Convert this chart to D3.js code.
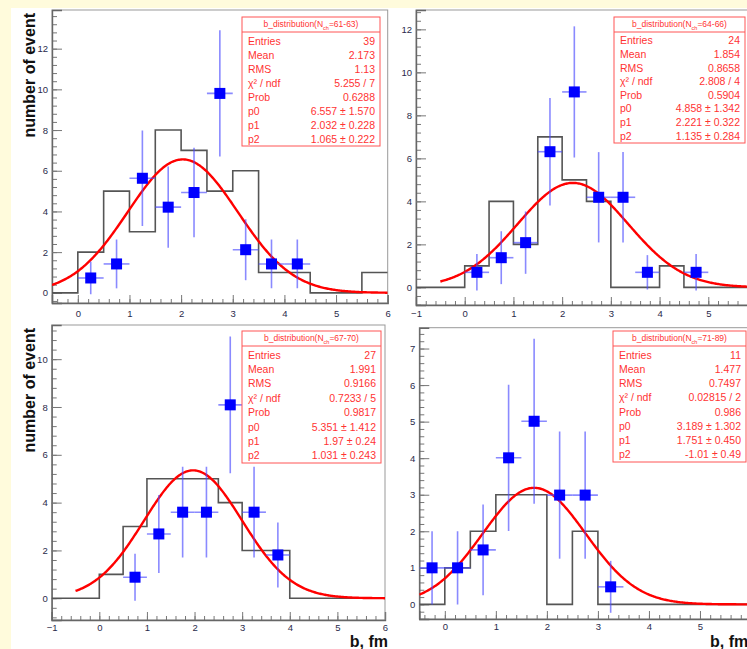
<!DOCTYPE html>
<html>
<head>
<meta charset="utf-8">
<script src="https://cdn.jsdelivr.net/npm/d3@7"></script>
<style>
  html, body { margin: 0; padding: 0; background: #fffbdc; }
  svg { display: block; font-family: "Liberation Sans", Arial, sans-serif; }
  .tick text { fill: #2a2a4a; font-size: 9.5px; }
  .domain { stroke: #666; }
  .tick line { stroke: #777; }
</style>
</head>
<body>
<svg id="chart" width="747" height="649"></svg>
<script>
// ---- panel 1: N = 61-63 ----
const hist1 = [0, 2, 5, 3, 8, 7, 5, 6, 1, 1, 0, 0, 1];          // 0.5 wide bins from -0.5
const pts1X = [0.25, 0.75, 1.25, 1.75, 2.25, 2.75, 3.25, 3.75, 4.25];
const pts1Y = [0.73, 1.42, 5.63, 4.21, 4.93, 9.8, 2.12, 1.42, 1.42];
const pts1Err = [0.8, 1.2, 2.35, 2.0, 2.2, 3.1, 1.5, 1.2, 1.2];
const fit1 = [6.557, 2.032, 1.065];
const stats1 = [["Entries", "39"], ["Mean", "2.173"], ["RMS", "1.13"], ["χ² / ndf", "5.255 / 7"],
  ["Prob", "0.6288"], ["p0", "6.557 ± 1.570"], ["p1", "2.032 ± 0.228"], ["p2", "1.065 ± 0.222"]];

// ---- panel 2: N = 64-66 ----
const hist2 = [0, 0, 1, 4, 2, 7, 5, 4, 0, 0, 1, 0, 0, 0];       // from -1
const pts2X = [0.25, 0.75, 1.25, 1.75, 2.25, 2.75, 3.25, 3.75, 4.75];
const pts2Y = [0.7, 1.38, 2.08, 6.31, 9.09, 4.19, 4.19, 0.7, 0.7];
const pts2Err = [0.85, 1.23, 1.45, 2.5, 3.05, 2.1, 2.1, 0.8, 0.85];
const fit2 = [4.858, 2.221, 1.135];
const stats2 = [["Entries", "24"], ["Mean", "1.854"], ["RMS", "0.8658"], ["χ² / ndf", "2.808 / 4"],
  ["Prob", "0.5904"], ["p0", "4.858 ± 1.342"], ["p1", "2.221 ± 0.322"], ["p2", "1.135 ± 0.284"]];

// ---- panel 3: N = 67-70 ----
const hist3 = [0, 0, 1, 3, 5, 5, 5, 4, 2, 2, 0, 0, 0, 0];       // from -1
const pts3X = [0.75, 1.25, 1.75, 2.25, 2.75, 3.25, 3.75];
const pts3Y = [0.88, 2.69, 3.6, 3.6, 8.09, 3.6, 1.81];
const pts3Err = [0.98, 1.63, 1.9, 1.9, 2.86, 1.9, 1.36];
const fit3 = [5.351, 1.97, 1.031];
const stats3 = [["Entries", "27"], ["Mean", "1.991"], ["RMS", "0.9166"], ["χ² / ndf", "0.7233 / 5"],
  ["Prob", "0.9817"], ["p0", "5.351 ± 1.412"], ["p1", "1.97 ± 0.24"], ["p2", "1.031 ± 0.243"]];

// ---- panel 4: N = 71-89 ----
const hist4 = [0, 1, 2, 3, 3, 0, 2, 0, 0, 0, 0, 0, 0];          // from -0.5
const pts4X = [-0.25, 0.25, 0.75, 1.25, 1.75, 2.25, 2.75, 3.25];
const pts4Y = [1.0, 1.0, 1.49, 4.01, 5.01, 2.99, 2.99, 0.48];
const pts4Err = [1.0, 1.0, 1.24, 2.0, 2.26, 1.74, 1.74, 0.71];
const fit4 = [3.189, 1.751, 1.01];
const stats4 = [["Entries", "11"], ["Mean", "1.477"], ["RMS", "0.7497"], ["χ² / ndf", "0.02815 / 2"],
  ["Prob", "0.986"], ["p0", "3.189 ± 1.302"], ["p1", "1.751 ± 0.450"], ["p2", "-1.01 ± 0.49"]];

const titles = ["61-63", "64-66", "67-70", "71-89"];

// layout of the four pads
const panels = [
  { hist: hist1, px: pts1X, py: pts1Y, pe: pts1Err, fit: fit1, stats: stats1, title: titles[0],
    fx: [52, 387.7], fy: [303, 10], xd: [-0.5, 6], yd: [-0.5, 13.9], yStep: 2, yMax: 12,
    box: [242, 17, 138, 129], yTitle: true, xTitle: null, xPad: 7 },
  { hist: hist2, px: pts2X, py: pts2Y, pe: pts2Err, fit: fit2, stats: stats2, title: titles[1],
    fx: [416, 757], fy: [305, 10], xd: [-1, 6], yd: [-0.82, 12.9], yStep: 2, yMax: 12,
    box: [614, 17, 131, 126], yTitle: false, xTitle: null, xPad: 5 },
  { hist: hist3, px: pts3X, py: pts3Y, pe: pts3Err, fit: fit3, stats: stats3, title: titles[2],
    fx: [51.7, 385], fy: [620, 325], xd: [-1, 6], yd: [-0.91, 11.43], yStep: 2, yMax: 10,
    box: [242, 331, 139, 132], yTitle: true, xTitle: [388, 647], xPad: 4 },
  { hist: hist4, px: pts4X, py: pts4Y, pe: pts4Err, fit: fit4, stats: stats4, title: titles[3],
    fx: [419.3, 751], fy: [619, 327.7], xd: [-0.5, 6], yd: [-0.4, 7.57], yStep: 1, yMax: 7,
    box: [613, 331, 133, 131], yTitle: false, xTitle: [710, 647], xPad: 4 }
];

const svg = d3.select("#chart");
svg.append("rect").attr("x", 11).attr("y", 8).attr("width", 736).attr("height", 641).attr("fill", "#fff");

const gauss = (p, x) => p[0] * Math.exp(-0.5 * Math.pow((x - p[1]) / p[2], 2));

panels.forEach((p, i) => {
  const x = d3.scaleLinear().domain(p.xd).range(p.fx);
  const y = d3.scaleLinear().domain(p.yd).range(p.fy);
  const g = svg.append("g");
  const clipId = "clip" + i;
  g.append("clipPath").attr("id", clipId).append("rect")
    .attr("x", p.fx[0]).attr("y", p.fy[1])
    .attr("width", p.fx[1] - p.fx[0]).attr("height", p.fy[0] - p.fy[1]);

  // frame
  g.append("rect")
    .attr("x", p.fx[0]).attr("y", p.fy[1])
    .attr("width", p.fx[1] - p.fx[0]).attr("height", p.fy[0] - p.fy[1])
    .attr("fill", "none").attr("stroke", "#999").attr("stroke-width", 1);

  // axes: minor ticks, then major with labels
  const xMinor = d3.range(Math.ceil(p.xd[0] / 0.2) * 0.2, p.xd[1] + 1e-6, 0.2);
  g.append("g").attr("transform", `translate(0,${p.fy[0]})`)
    .call(d3.axisBottom(x).tickValues(xMinor).tickSize(-4).tickFormat(""))
    .call(a => a.select(".domain").remove());
  g.append("g").attr("transform", `translate(0,${p.fy[0]})`)
    .call(d3.axisBottom(x).tickValues(d3.range(Math.ceil(p.xd[0]), Math.floor(p.xd[1]) + 1))
      .tickSize(-8).tickPadding(p.xPad).tickFormat(d3.format("d")))
    .call(a => a.select(".domain").attr("stroke", "#666").attr("stroke-width", 1.4));

  const yMinorStep = p.yStep / 5;
  const yMinor = d3.range(Math.ceil(p.yd[0] / yMinorStep) * yMinorStep, p.yd[1], yMinorStep);
  g.append("g").attr("transform", `translate(${p.fx[0]},0)`)
    .call(d3.axisLeft(y).tickValues(yMinor).tickSize(-5).tickFormat(""))
    .call(a => a.select(".domain").remove());
  g.append("g").attr("transform", `translate(${p.fx[0]},0)`)
    .call(d3.axisLeft(y).tickValues(d3.range(0, p.yMax + 1, p.yStep))
      .tickSize(-10).tickPadding(4).tickFormat(d3.format("d")))
    .call(a => a.select(".domain").attr("stroke", "#666").attr("stroke-width", 1.4));

  const plot = g.append("g").attr("clip-path", `url(#${clipId})`);

  // histogram outline
  const steps = [];
  p.hist.forEach((c, k) => {
    const a = p.xd[0] + k * 0.5;
    steps.push([a, c], [a + 0.5, c]);
  });
  plot.append("path")
    .attr("d", d3.line().x(d => x(d[0])).y(d => y(d[1]))(steps))
    .attr("fill", "none").attr("stroke", "#555").attr("stroke-width", 1.6);

  // fit curve
  const fx = d3.range(-0.5, 6.001, 0.02);
  plot.append("path")
    .attr("d", d3.line().x(d => x(d)).y(d => y(gauss(p.fit, d)))(fx))
    .attr("fill", "none").attr("stroke", "#f00").attr("stroke-width", 2.4);

  // data points with error bars
  const pts = p.px.map((v, k) => ({ x: v, y: p.py[k], e: p.pe[k] }));
  const eb = plot.append("g").attr("stroke", "#4b4bff").attr("stroke-opacity", 0.65).attr("stroke-width", 1.6);
  eb.selectAll(".v").data(pts).join("line")
    .attr("x1", d => x(d.x)).attr("x2", d => x(d.x))
    .attr("y1", d => y(d.y - d.e)).attr("y2", d => y(d.y + d.e));
  eb.selectAll(".h").data(pts).join("line")
    .attr("x1", d => x(d.x - 0.25)).attr("x2", d => x(d.x + 0.25))
    .attr("y1", d => y(d.y)).attr("y2", d => y(d.y));
  plot.selectAll(".m").data(pts).join("rect")
    .attr("x", d => x(d.x) - 5.5).attr("y", d => y(d.y) - 5.5)
    .attr("width", 11).attr("height", 11).attr("fill", "#0000ff");

  // stats box
  const [bx, by, bw, bh] = p.box;
  const sb = g.append("g").attr("fill", "#f33");
  sb.append("rect").attr("x", bx).attr("y", by).attr("width", bw).attr("height", bh)
    .attr("fill", "#fff").attr("stroke", "#f55").attr("stroke-width", 1);
  sb.append("line").attr("x1", bx).attr("x2", bx + bw).attr("y1", by + 15).attr("y2", by + 15)
    .attr("stroke", "#f55");
  const t = sb.append("text").attr("x", bx + bw / 2).attr("y", by + 10)
    .attr("text-anchor", "middle").attr("font-size", 8.5);
  t.append("tspan").text("b_distribution(N");
  t.append("tspan").attr("font-size", 5.5).attr("dy", 3).text("ch");
  t.append("tspan").attr("dy", -3).text("=" + p.title + ")");
  const rowH = (bh - 17) / p.stats.length;
  p.stats.forEach((r, k) => {
    const ry = by + 17 + rowH * (k + 0.5) + 3.5;
    sb.append("text").attr("x", bx + 6).attr("y", ry).attr("font-size", 10.5).text(r[0]);
    sb.append("text").attr("x", bx + bw - 5).attr("y", ry).attr("font-size", 10.5)
      .attr("text-anchor", "end").text(r[1]);
  });

  if (p.yTitle) {
    g.append("text")
      .attr("transform", `translate(35,${p.fy[1] + 3}) rotate(-90)`)
      .attr("text-anchor", "end").attr("font-size", 16).attr("font-weight", "bold")
      .attr("fill", "#111").text("number of event");
  }
  if (p.xTitle) {
    g.append("text").attr("x", p.xTitle[0]).attr("y", p.xTitle[1])
      .attr("text-anchor", i === 2 ? "end" : "start")
      .attr("font-size", 16).attr("font-weight", "bold").attr("fill", "#111").text("b, fm");
  }
});
</script>
</body>
</html>
